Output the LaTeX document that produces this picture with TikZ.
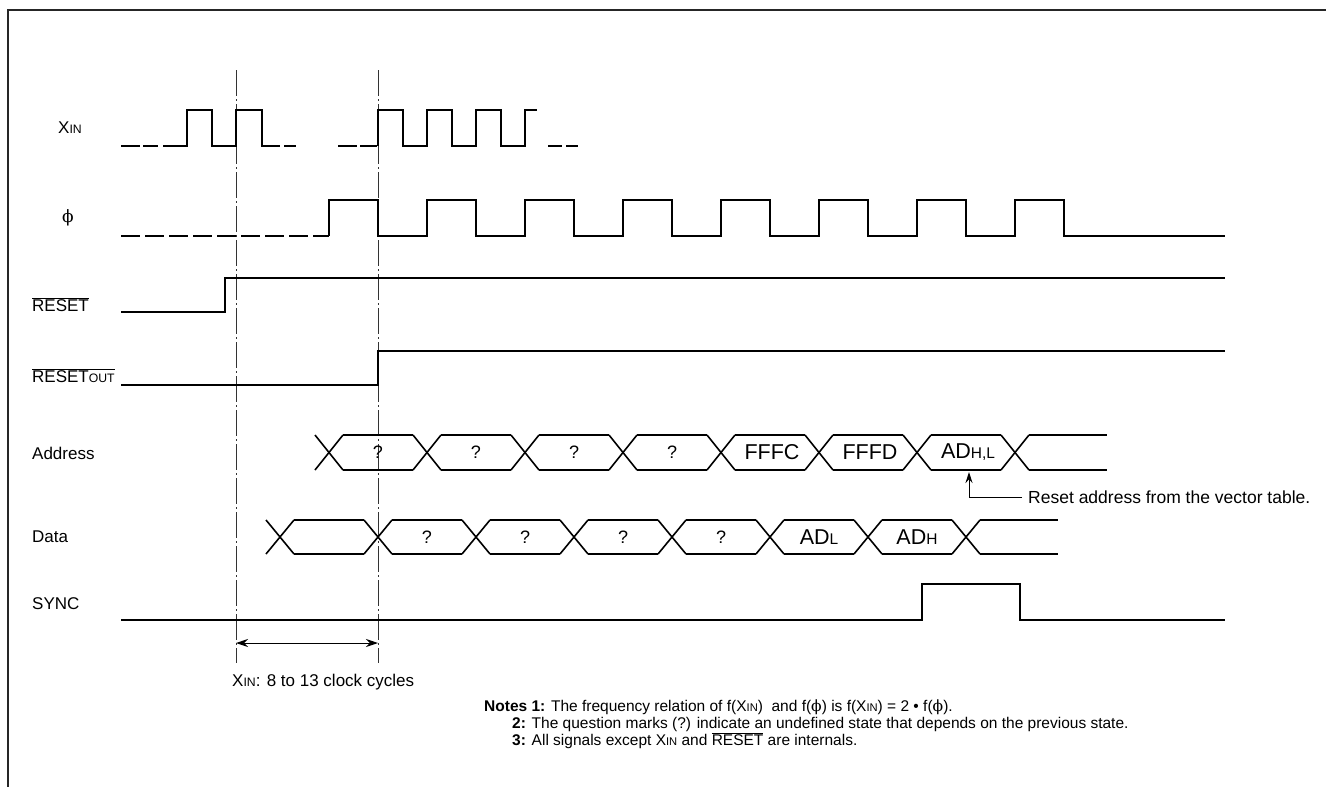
\documentclass[tikz,border=0pt]{standalone}
\usepackage{fontspec}
\usepackage{graphicx}
\setmainfont{Liberation Sans}
\newfontfamily\phifont{DejaVu Serif}
\usetikzlibrary{arrows.meta}
\newcommand{\smc}[1]{\scalebox{0.72}{#1}}
\newcommand{\phich}{{\phifont ϕ}}
\newcommand{\ovl}[1]{$\overline{\mbox{#1}}$}
\begin{document}
\begin{tikzpicture}[x=1pt,y=-1pt,
  sig/.style={line width=1.6pt, line join=miter},
  dsig/.style={line width=1.4pt, dash pattern=on 19pt off 5pt},
  guide/.style={line width=0.8pt, black!80, dash pattern=on 26pt off 3pt on 2pt off 3pt},
  lab/.style={anchor=west, inner sep=0pt, font=\fontsize{17}{20}\selectfont},
  celltxt/.style={inner sep=0pt, font=\fontsize{21.5}{24}\selectfont},
  qtxt/.style={inner sep=0pt, font=\fontsize{18}{20}\selectfont},
  note/.style={anchor=base west, inner sep=0pt, font=\fontsize{15.5}{17}\selectfont},
  arr/.style={line width=1pt, -{Stealth[length=11pt,width=7pt]}},
  darr/.style={line width=1pt, {Stealth[length=12pt,width=8pt]}-{Stealth[length=12pt,width=8pt]}}]
\useasboundingbox (0,0) rectangle (1326,787);
% frame
\draw[line width=2.5pt, black!85] (8,787) -- (8,10) -- (1326,10);
% guide lines
\coordinate (g1t) at (236,70); \coordinate (g1b) at (236,663);
\coordinate (g2t) at (378,70); \coordinate (g2b) at (378,663);
\draw[guide] (g1t) -- (g1b);
\draw[guide] (g2t) -- (g2b);
% labels
\node[lab] (lxin) at (58,128) {X\smc{IN}};
\node[lab] (lphi) at (62,218) {\phich};
\node[lab] (lres) at (32,305) {\ovl{RESET}};
\node[lab] (lrout) at (32,376) {\ovl{RESET\smc{OUT}}};
\node[lab] (laddr) at (32,453) {Address};
\node[lab] (ldata) at (32,537) {Data};
\node[lab] (lsync) at (32,604) {SYNC};
% XIN
\draw[line width=1.4pt] (121,146) -- (140,146) (143,146) -- (158,146);
\draw[sig] (163,146) -- (187,146) -- (187,110) -- (212,110) -- (212,146) -- (236,146) -- (236,110) -- (262,110) -- (262,146) -- (280,146);
\draw[line width=1.4pt] (284,146) -- (296,146);
\draw[line width=1.4pt] (338,146) -- (357,146) (360,146) -- (377,146);
\draw[sig] (378,146) -- (378,110) -- (403,110) -- (403,146) -- (427,146) -- (427,110) -- (452,110) -- (452,146) -- (476,146) -- (476,110) -- (501,110) -- (501,146) -- (525,146) -- (525,110) -- (537,110);
\draw[line width=1.4pt] (548,146) -- (562,146) (566,146) -- (578,146);
% phi
\draw[dsig] (121,236) -- (329,236);
\draw[sig] (329,236) \foreach \k in {0,...,7} { -- ({329+98*\k},200) -- ({378+98*\k},200) -- ({378+98*\k},236) -- ({427+98*\k},236) } -- (1225,236);
% RESET
\draw[sig] (121,312) -- (225,312) -- (225,278) -- (1225,278);
% RESET OUT
\draw[sig] (121,385) -- (378,385) -- (378,351) -- (1225,351);
% SYNC
\draw[sig] (121,620) -- (922,620) -- (922,584) -- (1020,584) -- (1020,620) -- (1225,620);
% Address bus
\foreach \k in {0,...,7} {
  \pgfmathsetmacro\c{329+98*\k}
  \draw[sig] (\c-14,435) -- (\c+14,470) (\c-14,470) -- (\c+14,435);
}
\foreach \k in {0,...,6} {
  \pgfmathsetmacro\c{329+98*\k}
  \draw[sig] (\c+14,435) -- (\c+84,435) (\c+14,470) -- (\c+84,470);
}
\draw[sig] (1029,435) -- (1107,435) (1029,470) -- (1107,470);
\foreach \k/\t in {0/?,1/?,2/?,3/?} {
  \node[qtxt] (a\k) at ({378+98*\k},452) {\t};
}
\node[celltxt] (a4) at (772,452) {FFFC};
\node[celltxt] (a5) at (870,452) {FFFD};
\node[celltxt] (a6) at (968,452) {AD\smc{H,L}};
% Data bus
\foreach \k in {0,...,7} {
  \pgfmathsetmacro\c{280+98*\k}
  \draw[sig] (\c-14,520) -- (\c+14,554) (\c-14,554) -- (\c+14,520);
}
\foreach \k in {0,...,6} {
  \pgfmathsetmacro\c{280+98*\k}
  \draw[sig] (\c+14,520) -- (\c+84,520) (\c+14,554) -- (\c+84,554);
}
\draw[sig] (980,520) -- (1058,520) (980,554) -- (1058,554);
\foreach \k/\t in {1/?,2/?,3/?,4/?} {
  \node[qtxt] (d\k) at ({329+98*\k},537) {\t};
}
\node[celltxt] (d5) at (819,537) {AD\smc{L}};
\node[celltxt] (d6) at (917,537) {AD\smc{H}};
% reset address arrow
\node[anchor=west, inner sep=0pt, font=\fontsize{17.5}{20}\selectfont] (rtext) at (1028,497) {Reset address from the vector table.};
\coordinate (acorner) at (969,497);
\coordinate (atip) at (969,472);
\draw[arr] ([xshift=-6pt]rtext.west) -- (acorner) -- (atip);
% clock cycles
\coordinate (da1) at (236,643); \coordinate (da2) at (378,643);
\draw[darr] (da1) -- (da2);
\node[lab] (cyc) at (232,682) {X\smc{IN}: 8 to 13 clock cycles};
% notes
\node[note] (n1) at (484,711) {\textbf{Notes 1:} The frequency relation of f(X\smc{IN})\ \ and f(\phich) is f(X\smc{IN}) = 2 • f(\phich).};
\node[note] (n2) at (512,728) {\textbf{2:} The question marks (?) indicate an undefined state that depends on the previous state.};
\node[note] (n3) at (512,745) {\textbf{3:} All signals except X\smc{IN} and \ovl{RESET} are internals.};
\end{tikzpicture}
\end{document}
